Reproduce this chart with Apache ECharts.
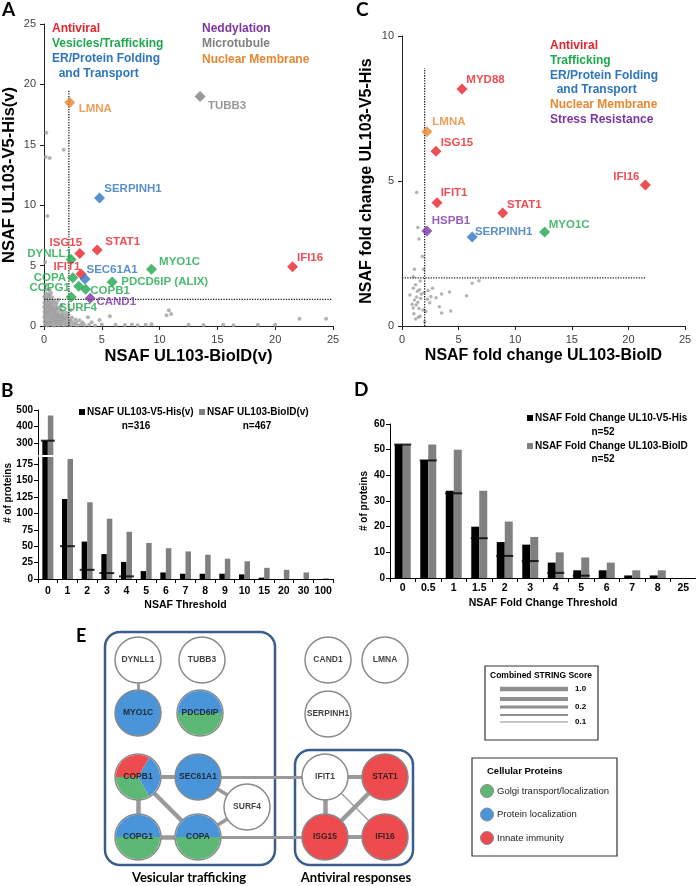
<!DOCTYPE html>
<html><head><meta charset="utf-8">
<script src="https://cdn.jsdelivr.net/npm/echarts@6/dist/echarts.min.js"></script>
<style>html,body{margin:0;padding:0;background:#fff}#c{width:696px;height:886px}</style>
</head><body><div id="c"></div>
<script>
// ================= DATA =================
// Panel A: NSAF scatter
const aNames = ['LMNA','TUBB3','SERPINH1','ISG15','STAT1','DYNLL1','IFIT1','SEC61A1','COPA','COPG1','COPB1','SURF4','CAND1','PDCD6IP (ALIX)','MYO1C','IFI16'];
const aX = [2.23,13.5,4.8,3.1,4.6,2.35,3.2,3.55,2.5,3.0,3.6,2.35,4.0,5.9,9.3,21.5];
const aY = [18.5,19.0,10.6,6.0,6.3,5.5,4.3,3.9,4.0,3.3,3.05,2.4,2.3,3.65,4.7,4.9];
const aGroup = ['nuclear','microtubule','er','antiviral','antiviral','vesicles','antiviral','er','vesicles','vesicles','vesicles','vesicles','neddylation','vesicles','vesicles','antiviral'];
const aBackground = [
[0.1,0.1],[0.3,0.05],[0.5,0.15],[0.7,0.1],[0.9,0.05],[1.1,0.12],[1.3,0.08],[1.5,0.15],[1.7,0.05],[1.9,0.1],[2.1,0.12],[2.3,0.06],[2.6,0.1],[2.9,0.05],[3.2,0.12],[3.5,0.08],[3.9,0.1],[4.4,0.05],[5.0,0.12],[6.2,0.1],[7.0,0.08],[7.6,0.12],[8.1,0.06],[8.8,0.1],[9.3,0.15],[12.5,0.1],[13.8,0.08],[15.5,0.1],[16.4,0.06],[18.5,0.1],[20.0,0.1],
[0.05,0.35],[0.2,0.3],[0.45,0.32],[0.62,0.28],[0.85,0.35],[1.02,0.3],[1.25,0.33],[1.41,0.27],[1.63,0.36],[1.82,0.3],[2.02,0.28],[2.24,0.34],[2.52,0.3],[2.81,0.26],[3.34,0.3],[4.12,0.32],
[0.12,0.55],[0.31,0.5],[0.52,0.56],[0.74,0.48],[0.93,0.54],[1.12,0.5],[1.33,0.57],[1.52,0.52],[1.71,0.47],[1.94,0.55],[2.33,0.5],[2.72,0.53],[3.05,0.48],[4.8,0.5],
[0.02,0.75],[0.21,0.72],[0.42,0.78],[0.61,0.7],[0.83,0.76],[1.04,0.72],[1.22,0.68],[1.43,0.77],[1.62,0.72],[2.03,0.74],[2.41,0.7],[3.8,0.72],
[0.1,0.95],[0.33,0.92],[0.52,0.98],[0.71,0.9],[0.92,0.96],[1.13,0.93],[1.32,0.88],[1.54,0.95],[1.83,0.9],[2.12,0.96],
[0.03,1.15],[0.22,1.12],[0.41,1.18],[0.63,1.1],[0.82,1.16],[1.01,1.12],[1.24,1.08],[1.62,1.15],[1.92,1.1],
[0.12,1.35],[0.3,1.32],[0.53,1.38],[0.72,1.3],[0.91,1.36],[1.1,1.33],[1.42,1.28],[2.3,1.32],
[0.02,1.55],[0.2,1.52],[0.43,1.58],[0.61,1.5],[0.82,1.56],[1.02,1.52],[1.33,1.55],
[0.1,1.75],[0.32,1.72],[0.5,1.78],[0.72,1.7],[1.03,1.76],[1.52,1.72],
[0.03,1.95],[0.22,1.92],[0.42,1.98],[0.63,1.9],[0.92,1.96],
[0.12,2.15],[0.31,2.12],[0.52,2.18],[0.8,2.1],[1.22,2.16],
[0.02,2.42],[0.23,2.4],[0.41,2.45],[0.7,2.38],
[0.1,2.7],[0.32,2.68],[0.6,2.74],
[0.2,3.02],[0.5,2.98],[0.15,3.4],
[0.18,0.2],[0.38,0.42],[0.58,0.22],[0.78,0.62],[0.98,0.42],[1.18,0.82],[1.38,0.42],[1.58,0.85],[1.78,0.62],[0.28,1.02],[0.48,1.24],[0.68,1.45],[0.88,1.04],[1.18,1.46],[0.38,1.65],[0.58,1.88],[0.18,2.28],[0.48,2.52],[1.08,1.88],[1.42,0.62],
[0.1,5.3],[0.3,9.1],[0.2,16.0],[0.15,14.0],[0.5,13.9],[1.7,14.6],
[5.7,0.8],[10.6,0.9],[10.8,1.3],[11.0,1.0],[22.1,0.6],[24.4,0.6]
];
const aThreshold = {x: 2.15, y: 2.2, xLineTop: 19.5, yLineRight: 24.9};

// Panel C: NSAF fold change scatter
const cNames = ['MYD88','LMNA','ISG15','IFI16','IFIT1','STAT1','HSPB1','SERPINH1','MYO1C'];
const cX = [5.3,2.2,3.0,21.5,3.1,8.9,2.2,6.2,12.6];
const cY = [8.17,6.7,6.03,4.86,4.25,3.9,3.28,3.07,3.24];
const cGroup = ['antiviral','nuclear','antiviral','antiviral','antiviral','antiviral','stress','er','trafficking'];
const cBackground = [[1.3,4.6],[1.4,3.4],[1.5,3.0],[1.8,2.4],[1.1,1.96],[1.9,1.96],[6.2,1.47],[6.8,1.56],[4.2,1.17],[5.7,1.04],[3.5,1.1],[3.0,0.97],[0.7,1.07],[3.3,0.66],[3.5,0.45],[4.3,0.52],[1.6,0.34],[1.2,0.24],[1.0,1.3],[1.2,1.42],[1.35,1.2],[1.55,1.25],[1.7,1.1],[1.95,1.15],[1.1,0.9],[1.4,0.82],[1.65,0.95],[2.25,0.92],[2.45,0.8],[1.0,0.62],[1.25,0.72],[1.5,0.6],[1.85,0.55],[2.1,0.5],[1.05,0.42],[1.45,0.3],[2.0,0.15],[1.0,1.7],[2.3,1.22],[2.7,1.3],[1.6,1.55],[2.55,1.02],[1.3,1.0],[0.9,0.75]];
const cThreshold = {x: 2.0, y: 1.66, xLineTop: 8.9, yLineRight: 21.5};

// Panel B: NSAF threshold bars
const bCategories = ['0','1','2','3','4','5','6','7','8','9','10','15','20','30','100'];
const bV5His = [316,122,57,38,26,12,10,8,8,8,7,2,0,0,0];
const bBioID = [467,183,117,92,72,55,47,42,37,31,27,17,14,10,1];
const bMarker = [316,50,14,9,4,null,null,null,null,null,null,null,null,null,null];
const bSeriesNames = ['NSAF UL103-V5-His(v)','NSAF UL103-BioID(v)'];
const bCounts = ['n=316','n=467'];

// Panel D: NSAF fold change threshold bars
const dCategories = ['0','0.5','1','1.5','2','3','4','5','6','7','8','25'];
const dV5His = [52,46,34,20,14,13,6,3,3,1,1,0];
const dBioID = [52,52,50,34,22,16,10,8,6,3,3,0];
const dMarker = [52,45.8,33,15.5,8.6,6.6,2,0.9,null,null,null,null];
const dSeriesNames = ['NSAF Fold Change UL10-V5-His','NSAF Fold Change UL103-BioID'];
const dCounts = ['n=52','n=52'];

// Panel E: STRING network
const eNodes = ['DYNLL1','TUBB3','CAND1','LMNA','MYO1C','PDCD6IP','SERPINH1','COPB1','SEC61A1','SURF4','COPG1','COPA','IFIT1','STAT1','ISG15','IFI16'];
const eFunctions = {MYO1C:['loc'], PDCD6IP:['loc','golgi'], COPB1:['loc','golgi','innate'], SEC61A1:['loc'], COPG1:['loc','golgi'], COPA:['loc','golgi'], STAT1:['innate'], ISG15:['innate'], IFI16:['innate']};
const eEdges = [['DYNLL1','MYO1C',0.2],['COPB1','SEC61A1',0.5],['COPB1','COPG1',1.0],['COPB1','COPA',1.0],['COPG1','COPA',1.0],['SEC61A1','SURF4',0.5],['COPA','SURF4',0.5],['SEC61A1','IFIT1',0.2],['COPA','ISG15',0.2],['IFIT1','ISG15',1.0],['IFIT1','STAT1',0.5],['ISG15','STAT1',1.0],['ISG15','IFI16',0.5],['IFIT1','IFI16',0.1]];
const eScoreLegend = [[1.0,'1.0'],[0.5,''],[0.2,'0.2'],[0.15,''],[0.1,'0.1']];
const eFunctionLegend = [['golgi','Golgi transport/localization'],['loc','Protein localization'],['innate','Innate immunity']];
const eGroups = ['Vesicular trafficking','Antiviral responses'];

// ================= STYLE / LAYOUT =================
const FONT = "'Liberation Sans', Arial, sans-serif";
const CAL = "Lato, 'Open Sans', sans-serif";
const GROUP_COLORS = {antiviral:'#E8232B', vesicles:'#1FA84E', trafficking:'#1FA84E', er:'#2E75C0', neddylation:'#7A36A6', microtubule:'#808080', nuclear:'#E8872F', stress:'#7A36A6'};
const FUNC_COLORS = {golgi:'#5CB874', loc:'#4A95DA', innate:'#EE4B4F'};
const aLabelOffset = {'LMNA':[25.5,6],'TUBB3':[27,9],'SERPINH1':[33.5,-9],'ISG15':[-14,-11],'STAT1':[25.5,-8],'DYNLL1':[-21.5,-6],'IFIT1':[-14,-7],'SEC61A1':[27,-9],'COPA':[-23,0],'COPG1':[-29,2],'COPB1':[24.5,2],'SURF4':[7,11],'CAND1':[26,4],'PDCD6IP (ALIX)':[52.5,0],'MYO1C':[28,-7],'IFI16':[17.5,-9]};
const cLabelOffset = {'MYD88':[23.5,-9],'LMNA':[22,-10],'ISG15':[21,-8],'IFI16':[-19,-8],'IFIT1':[17,-10],'STAT1':[21.5,-8],'HSPB1':[24,-10],'SERPINH1':[31.5,-5],'MYO1C':[24.5,-7]};
const eLayout = {DYNLL1:[138,660],TUBB3:[202,660],CAND1:[328,660],LMNA:[385,660],MYO1C:[138,713],PDCD6IP:[200,713],SERPINH1:[328,714],COPB1:[138,777],SEC61A1:[198,777],SURF4:[247,807],COPG1:[138,837],COPA:[198,837],IFIT1:[325,777],STAT1:[385,777],ISG15:[325,837],IFI16:[385,837]};
function edgeWidth(s){ return s>=0.9?4.5:s>=0.4?3.8:s>=0.2?2.8:s>=0.15?2:1.2; }

function txt(x, y, text, o) {
  o = o || {};
  const al = o.align || 'left', va = o.va || 'middle';
  return {type:'text', x:x, y:y, rotation:o.rot||0, z:o.z||10, silent:true,
    style:{text:text, fill:o.color||'#000', fontSize:o.size||12, fontWeight:o.weight||'bold', fontFamily:o.family||FONT,
      align:al, verticalAlign:va, textAlign:al, textVerticalAlign:va}};
}

const axisValueCommon = {
  axisLine:{show:true, lineStyle:{color:'#222', width:1}},
  axisTick:{show:true, length:4, lineStyle:{color:'#222'}},
  axisLabel:{fontSize:11, color:'#404040', fontFamily:FONT},
  splitLine:{show:false}
};
function valueAxis(extra){ return Object.assign({type:'value'}, JSON.parse(JSON.stringify(axisValueCommon)), extra); }

function diamondSeries(names, xs, ys, groups, offsets, ax) {
  return {type:'scatter', xAxisIndex:ax, yAxisIndex:ax, symbol:'diamond', symbolSize:11, z:5, silent:true,
    data: names.map((n,i)=>({name:n, value:[xs[i], ys[i]], itemStyle:{color:GROUP_COLORS[groups[i]]},
      label:{show:true, position:'inside', formatter:'{b}', color:GROUP_COLORS[groups[i]], fontWeight:'bold', fontSize:11.5, fontFamily:FONT, offset:offsets[n], align:'center', verticalAlign:'middle'}}))};
}
function dottedLine(pts, ax) {
  return {type:'line', xAxisIndex:ax, yAxisIndex:ax, data:pts, showSymbol:false, symbol:'none', silent:true, z:3,
    lineStyle:{type:'dotted', color:'#222', width:1.3}};
}

// ================= BUILD =================
const series = [];
// A
series.push({type:'scatter', xAxisIndex:0, yAxisIndex:0, data:aBackground, symbolSize:4, itemStyle:{color:'#a0a0a0'}, silent:true, z:2});
series.push(dottedLine([[aThreshold.x,0],[aThreshold.x,aThreshold.xLineTop]],0));
series.push(dottedLine([[0,aThreshold.y],[aThreshold.yLineRight,aThreshold.y]],0));
series.push(diamondSeries(aNames,aX,aY,aGroup,aLabelOffset,0));
// C
series.push({type:'scatter', xAxisIndex:1, yAxisIndex:1, data:cBackground, symbolSize:3.5, itemStyle:{color:'#a0a0a0'}, silent:true, z:2});
series.push(dottedLine([[cThreshold.x,0],[cThreshold.x,cThreshold.xLineTop]],1));
series.push(dottedLine([[0,cThreshold.y],[cThreshold.yLineRight,cThreshold.y]],1));
series.push(diamondSeries(cNames,cX,cY,cGroup,cLabelOffset,1));
// B (broken axis: upper grid 2, lower grid 3)
const B_LOW_MAX = 186, B_UP_MIN = 230;
const barColors = ['#000000','#808080'];
[bV5His,bBioID].forEach((arr,k)=>{
  series.push({type:'bar', name:bSeriesNames[k], xAxisIndex:3, yAxisIndex:3, data:arr, barWidth:5.5, barGap:'0%', itemStyle:{color:barColors[k]}, silent:true});
});
[bV5His,bBioID].forEach((arr,k)=>{
  series.push({type:'bar', name:bSeriesNames[k], xAxisIndex:2, yAxisIndex:2, data:arr.map(v=>v>B_UP_MIN?v:'-'), barWidth:5.5, barGap:'0%', itemStyle:{color:barColors[k]}, silent:true});
});
series.push({type:'scatter', xAxisIndex:3, yAxisIndex:3, symbol:'rect', symbolSize:[15,2], itemStyle:{color:'#000'}, z:4, silent:true,
  data:bMarker.map(v=>(v==null||v>B_LOW_MAX)?'-':v)});
series.push({type:'scatter', xAxisIndex:2, yAxisIndex:2, symbol:'rect', symbolSize:[14,2], itemStyle:{color:'#000'}, z:4, silent:true,
  data:bMarker.map(v=>(v==null||v<=B_UP_MIN)?'-':v)});
// D
[dV5His,dBioID].forEach((arr,k)=>{
  series.push({type:'bar', name:dSeriesNames[k], xAxisIndex:4, yAxisIndex:4, data:arr, barWidth:8, barGap:'0%', itemStyle:{color:barColors[k]}, silent:true});
});
series.push({type:'scatter', xAxisIndex:4, yAxisIndex:4, symbol:'rect', symbolSize:[17,2], itemStyle:{color:'#000'}, z:4, silent:true,
  data:dMarker.map(v=>v==null?'-':v)});
// E network
series.push({type:'graph', layout:'none', coordinateSystem:'cartesian2d', xAxisIndex:5, yAxisIndex:5, symbolSize:46, silent:true, z:2,
  label:{show:false}, itemStyle:{borderColor:'#8a8a8a', borderWidth:1.5}, lineStyle:{color:'#9a9a9a', opacity:1, curveness:0},
  emphasis:{disabled:true},
  data:eNodes.map(n=>{ const f=eFunctions[n]; return {name:n, value:eLayout[n], itemStyle:{color: (f && f.length===1)?FUNC_COLORS[f[0]]:'#ffffff'}}; }),
  links:eEdges.map(e=>({source:e[0], target:e[1], lineStyle:{width:edgeWidth(e[2])}}))
});
eNodes.forEach(n=>{
  const f = eFunctions[n];
  if (!f || f.length<2) return;
  series.push({type:'pie', center:eLayout[n], radius:22.2, startAngle: f.length===3?60:180, clockwise:true, silent:true, z:3,
    label:{show:false}, labelLine:{show:false}, emphasis:{disabled:true}, animation:false,
    data:f.map(k=>({name:k, value:1, itemStyle:{color:FUNC_COLORS[k]}}))});
});
series.push({type:'scatter', xAxisIndex:5, yAxisIndex:5, symbolSize:1, itemStyle:{color:'rgba(0,0,0,0)'}, z:6, silent:true,
  label:{show:true, position:'inside', formatter:'{b}', fontSize:8.5, fontWeight:'bold', color:'#111', fontFamily:FONT},
  data:eNodes.map(n=>({name:n, value:eLayout[n]}))});

// ================= GRAPHICS (text / frames) =================
const g = [];
g.push(txt(2,10,'A',{size:19,family:CAL}));
g.push(txt(356,10,'C',{size:19,family:CAL}));
g.push(txt(1,391,'B',{size:19,family:CAL}));
g.push(txt(354,390,'D',{size:19,family:CAL}));
g.push(txt(76,636,'E',{size:18,family:CAL}));
// A legend
[['Antiviral','antiviral',52,29],['Vesicles/Trafficking','vesicles',52,44],['ER/Protein Folding','er',52,59],['  and Transport','er',52,74],
 ['Neddylation','neddylation',202,29],['Microtubule','microtubule',202,44],['Nuclear Membrane','nuclear',202,60]].forEach(t=>g.push(txt(t[2],t[3],t[0],{color:GROUP_COLORS[t[1]],size:12})));
// C legend
[['Antiviral','antiviral',550,46],['Trafficking','trafficking',550,61],['ER/Protein Folding','er',550,76],['  and Transport','er',550,90],
 ['Nuclear Membrane','nuclear',550,105],['Stress Resistance','stress',550,120]].forEach(t=>g.push(txt(t[2],t[3],t[0],{color:GROUP_COLORS[t[1]],size:12})));
// B/D counts and axis name
g.push(txt(136,426,bCounts[0],{align:'center',size:10}));
g.push(txt(257,426,bCounts[1],{align:'center',size:10}));
g.push(txt(603,432,dCounts[0],{align:'center',size:10}));
g.push(txt(603,459,dCounts[1],{align:'center',size:10}));
g.push(txt(8,493,'# of proteins',{align:'center',size:10,rot:Math.PI/2}));
// E frames
g.push({type:'rect', shape:{x:105,y:632,width:170,height:233,r:15}, style:{fill:'none',stroke:'#3A5D8C',lineWidth:2.5}, z:0, silent:true});
g.push({type:'rect', shape:{x:295,y:750,width:118,height:115,r:15}, style:{fill:'none',stroke:'#3A5D8C',lineWidth:2.5}, z:0, silent:true});
g.push(txt(189,878,eGroups[0],{align:'center',size:13,family:CAL}));
g.push(txt(356,878,eGroups[1],{align:'center',size:13,family:CAL}));
// STRING score legend
g.push({type:'rect', shape:{x:485,y:666,width:113,height:74}, style:{fill:'#fff',stroke:'#333',lineWidth:1.2}, z:0, silent:true});
g.push(txt(541,676,'Combined STRING Score',{align:'center',size:8.5}));
const legYs = [689,699,707,715,722];
eScoreLegend.forEach((s,i)=>{
  g.push({type:'line', shape:{x1:500,y1:legYs[i],x2:568,y2:legYs[i]}, style:{stroke:'#8f8f8f',lineWidth:edgeWidth(s[0])}, z:1, silent:true});
  if (s[1]) g.push(txt(575,legYs[i],s[1],{size:8}));
});
// Cellular proteins legend
g.push({type:'rect', shape:{x:472,y:758,width:145,height:98}, style:{fill:'#fff',stroke:'#333',lineWidth:1.2}, z:0, silent:true});
g.push(txt(487,771,'Cellular Proteins',{size:9.5}));
eFunctionLegend.forEach((f,i)=>{
  const y = 791 + i*23.5;
  g.push({type:'circle', shape:{cx:487,cy:y,r:6.5}, style:{fill:FUNC_COLORS[f[0]],stroke:'#8a8a8a',lineWidth:1}, z:1, silent:true});
  g.push(txt(497,y,f[1],{size:9.5,weight:'normal',color:'#222'}));
});

const catAxisB = {axisLine:{lineStyle:{color:'#000'}}, axisTick:{show:true, alignWithLabel:false, length:4, lineStyle:{color:'#000'}},
  axisLabel:{interval:0, fontSize:10.5, fontWeight:'bold', color:'#000', fontFamily:FONT, margin:7}, splitLine:{show:false}};
const boldY = {axisLine:{show:true,lineStyle:{color:'#000'}}, axisTick:{show:true,length:4,lineStyle:{color:'#000'}},
  axisLabel:{fontSize:10, fontWeight:'bold', color:'#000', fontFamily:FONT, margin:5}, splitLine:{show:false}};

const lowTicks = [0,25,50,75,100,125,150,175];
const upTicks = [300,400,500];

const option = {
  animation:false,
  textStyle:{fontFamily:FONT},
  grid:[
    {left:42, top:24, width:291, height:302},
    {left:402, top:36, width:283, height:290},
    {left:38, top:410, width:295, height:45},
    {left:38, top:457, width:295, height:122},
    {left:390, top:424, width:306, height:154},
    {left:0, top:0, width:696, height:886}
  ],
  xAxis:[
    valueAxis({gridIndex:0, min:0, max:25, interval:5, name:'NSAF UL103-BioID(v)', nameLocation:'middle', nameGap:22,
      nameTextStyle:{fontSize:16.5, fontWeight:'bold', color:'#000', fontFamily:FONT}}),
    valueAxis({gridIndex:1, min:0, max:25, interval:5, name:'NSAF fold change UL103-BioID', nameLocation:'middle', nameGap:22,
      nameTextStyle:{fontSize:16, fontWeight:'bold', color:'#000', fontFamily:FONT}}),
    {gridIndex:2, type:'category', data:bCategories, show:false},
    Object.assign({gridIndex:3, type:'category', data:bCategories, name:'NSAF Threshold', nameLocation:'middle', nameGap:21,
      nameTextStyle:{fontSize:10.5, fontWeight:'bold', color:'#000', fontFamily:FONT}}, JSON.parse(JSON.stringify(catAxisB))),
    Object.assign({gridIndex:4, type:'category', data:dCategories, name:'NSAF Fold Change Threshold', nameLocation:'middle', nameGap:20,
      nameTextStyle:{fontSize:10.5, fontWeight:'bold', color:'#000', fontFamily:FONT}}, JSON.parse(JSON.stringify(catAxisB)), {axisLabel:{interval:0, fontSize:10.5, fontWeight:'bold', color:'#000', fontFamily:FONT, margin:5}}),
    {gridIndex:5, type:'value', min:0, max:696, show:false}
  ],
  yAxis:[
    valueAxis({gridIndex:0, min:0, max:25, interval:5, name:'NSAF UL103-V5-His(v)', nameLocation:'middle', nameGap:26,
      nameTextStyle:{fontSize:16.5, fontWeight:'bold', color:'#000', fontFamily:FONT}}),
    valueAxis({gridIndex:1, min:0, max:10, interval:5, name:'NSAF fold change UL103-V5-His', nameLocation:'middle', nameGap:27,
      nameTextStyle:{fontSize:16, fontWeight:'bold', color:'#000', fontFamily:FONT}}),
    Object.assign({gridIndex:2, type:'value', min:B_UP_MIN, max:500}, JSON.parse(JSON.stringify(boldY)),
      {axisLabel:Object.assign({}, boldY.axisLabel, {customValues:upTicks}), axisTick:Object.assign({}, boldY.axisTick, {customValues:upTicks})}),
    Object.assign({gridIndex:3, type:'value', min:0, max:B_LOW_MAX}, JSON.parse(JSON.stringify(boldY)),
      {axisLabel:Object.assign({}, boldY.axisLabel, {customValues:lowTicks}), axisTick:Object.assign({}, boldY.axisTick, {customValues:lowTicks})}),
    Object.assign({gridIndex:4, type:'value', min:0, max:60, interval:10, name:'# of proteins', nameLocation:'middle', nameGap:21,
      nameTextStyle:{fontSize:10, fontWeight:'bold', color:'#000', fontFamily:FONT}}, JSON.parse(JSON.stringify(boldY))),
    {gridIndex:5, type:'value', min:0, max:886, inverse:true, show:false}
  ],
  legend:[
    {data:[bSeriesNames[0]], left:79, top:407},
    {data:[bSeriesNames[1]], left:199, top:407},
    {data:[dSeriesNames[0]], left:527, top:413},
    {data:[dSeriesNames[1]], left:527, top:441}
  ].map(l=>Object.assign(l,{padding:0, icon:'rect', itemWidth:6, itemHeight:6, itemGap:0, selectedMode:false,
      textStyle:{fontSize:10, fontWeight:'bold', color:'#000', fontFamily:FONT, padding:[0,0,0,-3]}})),
  graphic:{elements:g},
  series:series
};
const chart = echarts.init(document.getElementById('c'), null, {renderer:'canvas', width:696, height:886});
chart.setOption(option);
</script>
</body></html>
